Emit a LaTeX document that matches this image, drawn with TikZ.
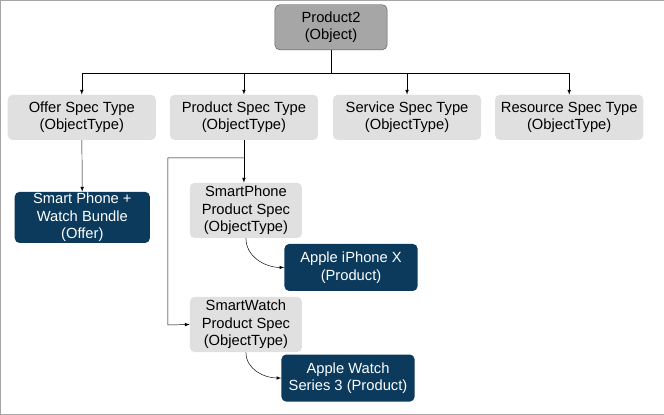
\documentclass[tikz,border=0pt]{standalone}
\usepackage{fontspec}
\setmainfont{Liberation Sans}
\usetikzlibrary{positioning}
\definecolor{lightbox}{HTML}{E0E0E0}
\definecolor{rootbox}{HTML}{A6A6A6}
\definecolor{darkbox}{HTML}{0B3A5C}
\begin{document}
\begin{tikzpicture}[x=0.85pt,y=-0.85pt,
  every node/.style={font=\fontsize{12.5}{15}\selectfont, align=center},
  spec/.style={fill=lightbox, rounded corners=4pt, minimum width=148*0.85pt, minimum height=45*0.85pt, inner sep=0pt},
  small/.style={fill=lightbox, rounded corners=4pt, minimum width=112*0.85pt, minimum height=55*0.85pt, inner sep=0pt},
  root/.style={fill=rootbox, draw=gray!70!black, rounded corners=4pt, minimum width=112*0.85pt, minimum height=45*0.85pt, inner sep=0pt},
  item/.style={fill=darkbox, text=white, rounded corners=4pt, minimum width=133*0.85pt, minimum height=47*0.85pt, inner sep=0pt},
  link/.style={-latex, thin}]
\draw[gray!70, fill=white] (0.5,0.5) rectangle (663.5,414.5);
% top
\node[root] (prod2) at (331,27.5) {Product2\\(Object)};
\node[spec] (offer) at (82,117.5) {Offer Spec Type\\(ObjectType)};
\node[spec] (pspec) at (244,117.5) {Product Spec Type\\(ObjectType)};
\node[spec] (sspec) at (407,117.5) {Service Spec Type\\(ObjectType)};
\node[spec] (rspec) at (569,117.5) {Resource Spec Type\\(ObjectType)};
% lower
\node[item, minimum width=135*0.85pt, minimum height=51*0.85pt] (bundle) at (82.5,217.5) {Smart Phone +\\Watch Bundle\\(Offer)};
\node[small] (phone) at (246,210.5) {SmartPhone\\Product Spec\\(ObjectType)};
\node[item] (iphone) at (351,267.5) {Apple iPhone X\\(Product)};
\node[small] (watch) at (246,324.5) {SmartWatch\\Product Spec\\(ObjectType)};
\node[item] (awatch) at (348,378) {Apple Watch\\Series 3 (Product)};
\coordinate (bus) at (331,73);
\coordinate (fork) at (244,158);
% connectors
\draw (prod2.south) -- (bus);
\draw (offer.north |- bus) -- (rspec.north |- bus);
\foreach \n in {offer,pspec,sspec,rspec}
  \draw[link] (\n.north |- bus) -- (\n.north);
\draw[link] (offer) -- (bundle);
\draw (pspec.south) -- (fork);
\draw[link] (fork) -- (fork |- phone.north);
\draw[link] (fork) -| (168,325) -- (watch.west);
\draw[link] (phone.south) to[out=-90,in=180] (iphone.west);
\draw[link] (watch.south) to[out=-90,in=180] (awatch.west);
\end{tikzpicture}
\end{document}
